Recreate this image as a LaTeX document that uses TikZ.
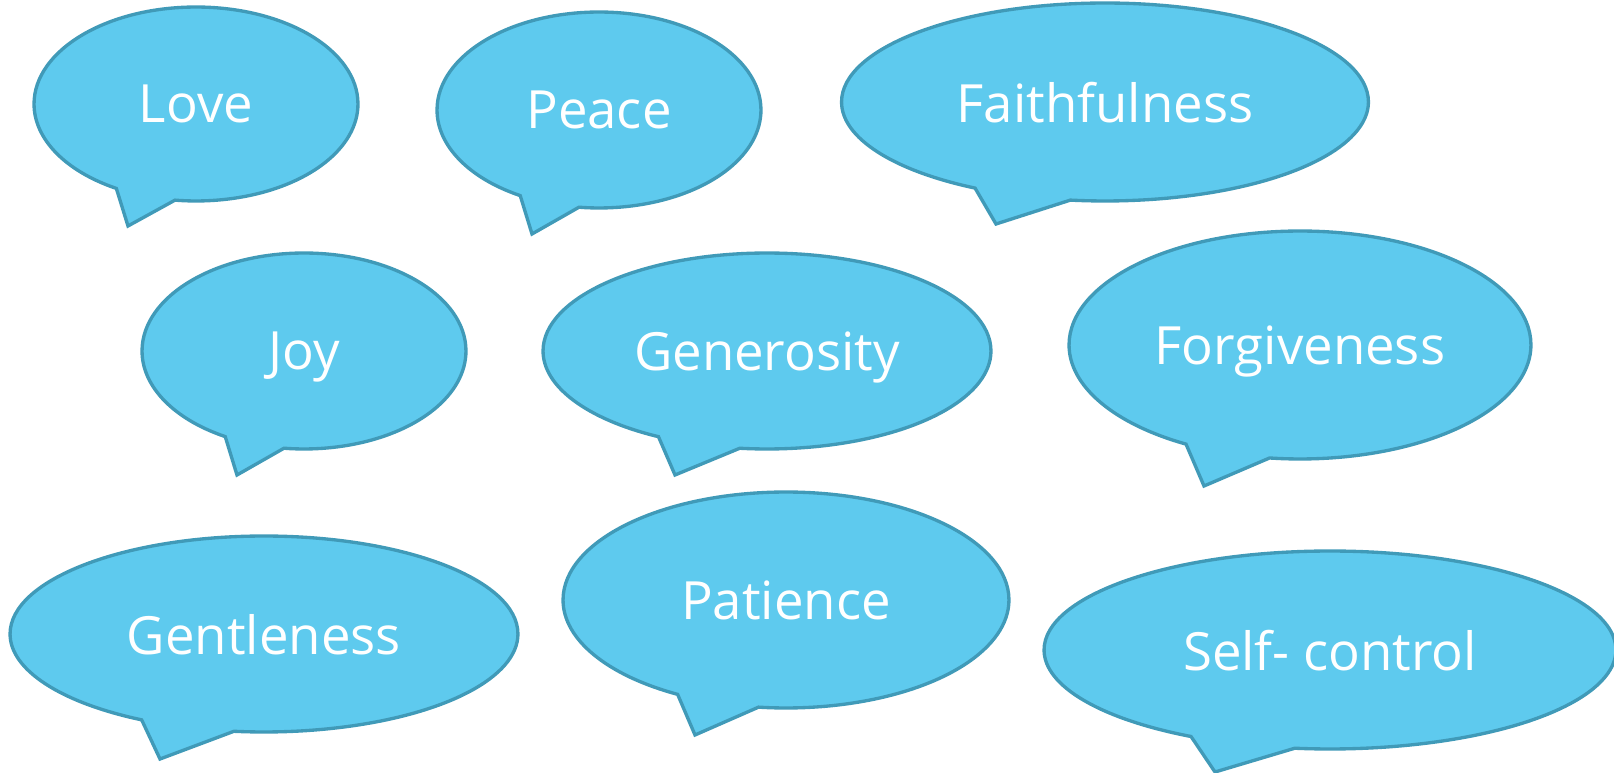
\documentclass[tikz,border=0pt]{standalone}
\usepackage{fontspec}
\setmainfont{Open Sans}
\usetikzlibrary{shapes.callouts}
\definecolor{bubblefill}{RGB}{94,202,238}
\definecolor{bubbleline}{RGB}{64,154,184}

\begin{document}
\begin{tikzpicture}[
			x=0.02cm, y=-0.02cm,
			bubble/.style={ellipse callout, fill=bubblefill, draw=bubbleline,
				line width=1.9pt, inner sep=0pt, text=white, callout pointer arc=22,
				text depth=0pt, font=\fontsize{30}{36}\selectfont} % all the speech bubbles
			]
			\useasboundingbox (0,0) rectangle (1614,773);
			% top row
			\node[bubble, minimum width=6.48cm, minimum height=3.88cm,
				callout absolute pointer={(128,226)}] (love) at (196,104) {Love};
			\node[bubble, minimum width=6.48cm, minimum height=3.92cm,
				callout absolute pointer={(532,234)}] (peace) at (599,110) {Peace};
			\node[bubble, minimum width=10.54cm, minimum height=3.96cm,
				callout absolute pointer={(996,224)}] (faith) at (1105,102) {Faithfulness};
			% middle row
			\node[bubble, minimum width=6.48cm, minimum height=3.92cm,
				callout absolute pointer={(237,475)}] (joy) at (304,351) {Joy};
			\node[bubble, minimum width=8.96cm, minimum height=3.92cm,
				callout absolute pointer={(675,475)}] (generosity) at (767,351) {Generosity};
			\node[bubble, minimum width=9.24cm, minimum height=4.56cm,
				callout absolute pointer={(1204,486)}] (forgiveness) at (1300,345) {Forgiveness};
			% bottom row
			\node[bubble, minimum width=10.16cm, minimum height=3.92cm,
				callout absolute pointer={(160,759)}] (gentleness) at (264,634) {Gentleness};
			\node[bubble, minimum width=8.92cm, minimum height=4.32cm,
				callout absolute pointer={(695,735)}] (patience) at (786,600) {Patience};
			\node[bubble, minimum width=11.44cm, minimum height=3.96cm,
				callout absolute pointer={(1215,772)}] (selfcontrol) at (1330,650) {Self- control};
		\end{tikzpicture}
\end{document}
